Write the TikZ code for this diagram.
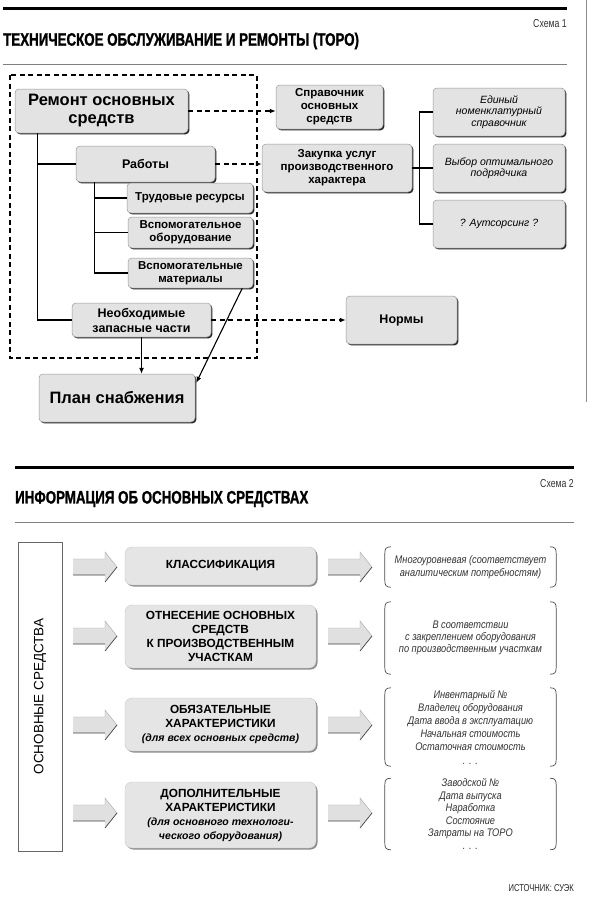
\documentclass[tikz,border=0pt]{standalone}
\usepackage{fontspec}
\setmainfont{Liberation Sans}
\newfontfamily\cond[FakeStretch=0.76]{Liberation Sans}
\newfontfamily\condt[FakeStretch=0.74,FakeBold=1.2]{Liberation Sans Bold}
\newfontfamily\condi[FakeStretch=0.84]{Liberation Sans}
\usetikzlibrary{arrows.meta,shadows,calc}
\newcommand\mybrackets[1]{%
  \draw[brk] ($(#1.north west)+(6,0)$) .. controls ($(#1.north west)+(1,0)$) and ($(#1.north west)+(0,2)$) .. ($(#1.north west)+(0,7)$)
     -- ($(#1.south west)+(0,-7)$) .. controls ($(#1.south west)+(0,-2)$) and ($(#1.south west)+(1,0)$) .. ($(#1.south west)+(6,0)$);
  \draw[brk] ($(#1.north east)+(-6,0)$) .. controls ($(#1.north east)+(-1,0)$) and ($(#1.north east)+(0,2)$) .. ($(#1.north east)+(0,7)$)
     -- ($(#1.south east)+(0,-7)$) .. controls ($(#1.south east)+(0,-2)$) and ($(#1.south east)+(-1,0)$) .. ($(#1.south east)+(-6,0)$);
}
\begin{document}
\begin{tikzpicture}[x=1pt,y=-1pt,
  box/.style={rounded corners=4pt, fill=black!11, draw=black!40, line width=0.5pt,
    drop shadow={shadow xshift=1.4pt, shadow yshift=-1.4pt, fill=black!85, opacity=1},
    inner sep=0pt, align=center, font=\fontsize{11.5}{13}\selectfont\bfseries},
  bigbox/.style={box, font=\fontsize{16.5}{18}\selectfont\bfseries},
  midbox/.style={box, font=\fontsize{12.5}{15}\selectfont\bfseries},
  ibox/.style={box, font=\fontsize{10.5}{11.5}\selectfont\itshape},
  sbox/.style={rounded corners=7pt, fill=black!10, draw=black!22, line width=0.4pt,
    drop shadow={shadow xshift=1.5pt, shadow yshift=-1.5pt, fill=black!45, opacity=1},
    inner sep=0pt, align=center, minimum width=191pt, font=\fontsize{11.8}{14}\selectfont\bfseries},
  btext/.style={inner sep=0pt, align=center, minimum width=171pt, text=black!80,
    font=\condi\fontsize{11}{12.3}\selectfont\itshape},
  brk/.style={black!70, line width=0.7pt},
  conn/.style={line width=1.1pt, black},
  dasharr/.style={line width=1.2pt, dash pattern=on 5pt off 3.5pt, -{Latex[length=6pt,width=5pt]}},
  solarr/.style={conn, -{Latex[length=6pt,width=5pt]}},
  barrow/.pic={
    \fill[black!12] (0,-8) -- (32,-8) -- (32,-15) -- (44,0) -- (32,15) -- (32,8) -- (0,8) -- cycle;
    \draw[black!35, line width=0.4pt] (0,-8) -- (32,-8) -- (32,-15) -- (44,0);
    \draw[black!75, line width=0.7pt] (0,8) -- (32,8) (32,15) -- (44,0);
  }
]
\useasboundingbox (0,0) rectangle (592,905);
\fill[white] (0,0) rectangle (592,905);

% ---------- Scheme 1 header ----------
\draw[line width=3pt] (3,8) -- (567,8);
\node[anchor=east, inner sep=0pt, font=\cond\fontsize{11.5}{13}\selectfont, text=black!80] (s1) at (567,24) {Схема 1};
\node[anchor=west, inner sep=0pt, font=\condt\fontsize{18}{20}\selectfont] (t1) at (3,41) {ТЕХНИЧЕСКОЕ ОБСЛУЖИВАНИЕ И РЕМОНТЫ (ТОРО)};
\draw[black!50, line width=0.8pt] (3,64) -- (567,64);
\draw[black!45, line width=0.8pt] (586,0) -- (586,402);

% dashed frame
\draw[line width=1.2pt, dash pattern=on 5pt off 3.5pt] (10,75) rectangle (257,358);

% nodes
\node[bigbox, minimum width=173pt, minimum height=44pt] (rem) at (101.5,111) {Ремонт основных\\средств};
\node[box, minimum width=107pt, minimum height=44pt] (spr) at (329.5,107) {Справочник\\основных\\средств};
\node[box, minimum width=150pt, minimum height=48pt] (zak) at (337,168) {Закупка услуг\\производственного\\характера};
\node[midbox, minimum width=139pt, minimum height=36pt] (rab) at (145.5,164) {Работы};
\node[box, minimum width=126pt, minimum height=30pt] (tr) at (190,198) {Трудовые ресурсы};
\node[box, minimum width=125pt, minimum height=31pt] (vob) at (190.5,232.5) {Вспомогательное\\оборудование};
\node[box, minimum width=125pt, minimum height=30pt] (vmat) at (190.5,273) {Вспомогательные\\материалы};
\node[midbox, minimum width=139pt, minimum height=34pt] (nzch) at (141.5,320) {Необходимые\\запасные части};
\node[bigbox, minimum width=156pt, minimum height=48pt] (plan) at (117,398) {План снабжения};
\node[midbox, minimum width=111pt, minimum height=48pt] (norm) at (401.5,320) {Нормы};
\node[ibox, minimum width=132pt, minimum height=48pt] (ed) at (499,112) {Единый\\номенклатурный\\справочник};
\node[ibox, minimum width=132pt, minimum height=48pt] (vyb) at (499,168) {Выбор оптимального\\подрядчика};
\node[ibox, minimum width=132pt, minimum height=48pt] (aut) at (499,224) {? Аутсорсинг ?};

% connectors
\draw[conn] ($(rem.south west)+(23,0)$) |- (rab.west);
\draw[conn] ($(rem.south west)+(23,0)$) |- (nzch.west);
\draw[conn] ($(rab.south west)+(19,0)$) |- (tr.west);
\draw[conn] ($(rab.south west)+(19,0)$) |- (vob.west);
\draw[conn] ($(rab.south west)+(19,0)$) |- (vmat.west);
\draw[conn] (zak.east) -- (vyb.west);
\draw[conn] (ed.west) -- ++(-13,0) |- (aut.west);
\draw[solarr] (nzch.south) -- (nzch.south |- plan.north);
\draw[solarr] ($(vmat.south east)+(-11,0)$) -- ($(plan.north east)+(1,9)$);
\draw[dasharr] (rem.east) -- (rem.east -| spr.west);
\draw[dasharr] (rab.east) -- (rab.east -| zak.west);
\draw[dasharr] (nzch.east) -- (nzch.east -| norm.west);

% ---------- Scheme 2 header ----------
\draw[line width=3pt] (15,467) -- (574,467);
\node[anchor=east, inner sep=0pt, font=\cond\fontsize{11.5}{13}\selectfont, text=black!80] (s2) at (574,484) {Схема 2};
\node[anchor=west, inner sep=0pt, font=\condt\fontsize{18}{20}\selectfont] (t2) at (15,499) {ИНФОРМАЦИЯ ОБ ОСНОВНЫХ СРЕДСТВАХ};
\draw[black!50, line width=0.8pt] (15,522) -- (574,522);

% left box
\node[fill=white, draw=black!60, line width=0.6pt, inner sep=0pt, minimum width=44pt, minimum height=309pt,
  drop shadow={shadow xshift=1.2pt, shadow yshift=-1.2pt, fill=black!35, opacity=1}] (os) at (40,696.5) {};
\node[rotate=90, inner sep=0pt, font=\fontsize{13.5}{15}\selectfont] (ostext) at (os.center) {ОСНОВНЫЕ СРЕДСТВА};

% block arrows
\foreach \yy in {567,636,725,813} {
  \pic at (73,\yy) {barrow};
  \pic at (328,\yy) {barrow};
}

% boxes
\node[sbox, minimum height=38pt] (k1) at (220.5,566) {КЛАССИФИКАЦИЯ};
\node[sbox, minimum height=63pt] (k2) at (220.5,636.5) {ОТНЕСЕНИЕ ОСНОВНЫХ\\СРЕДСТВ\\К ПРОИЗВОДСТВЕННЫМ\\УЧАСТКАМ};
\node[sbox, minimum height=53pt] (k3) at (220.5,724.5) {ОБЯЗАТЕЛЬНЫЕ\\ХАРАКТЕРИСТИКИ\\{\itshape\fontsize{10.5}{14}\selectfont (для всех основных средств)}};
\node[sbox, minimum height=66pt] (k4) at (220.5,815) {ДОПОЛНИТЕЛЬНЫЕ\\ХАРАКТЕРИСТИКИ\\{\itshape\fontsize{10.5}{14}\selectfont (для основного технологи-}\\{\itshape\fontsize{10.5}{14}\selectfont ческого оборудования)}};

% bracket texts
\node[btext, minimum height=40pt] (b1) at (470.5,567) {Многоуровневая (соответствует\\аналитическим потребностям)};
\node[btext, minimum height=72pt] (b2) at (470.5,638) {В соответствии\\с закреплением оборудования\\по производственным участкам};
\node[btext, minimum height=78pt, font=\condi\fontsize{11}{13.2}\selectfont\itshape] (b3) at (470.5,727) {Инвентарный №\\Владелец оборудования\\Дата ввода в эксплуатацию\\Начальная стоимость\\Остаточная стоимость\\.\,\,.\,\,.};
\node[btext, minimum height=68pt, font=\condi\fontsize{11}{12.6}\selectfont\itshape] (b4) at (470.5,814) {Заводской №\\Дата выпуска\\Наработка\\Состояние\\Затраты на ТОРО\\.\,\,.\,\,.};
\mybrackets{b1}
\mybrackets{b2}
\mybrackets{b3}
\mybrackets{b4}

\node[anchor=east, inner sep=0pt, font=\cond\fontsize{10}{11}\selectfont, text=black!85] (src) at (574,888) {ИСТОЧНИК: СУЭК};
\end{tikzpicture}
\end{document}
